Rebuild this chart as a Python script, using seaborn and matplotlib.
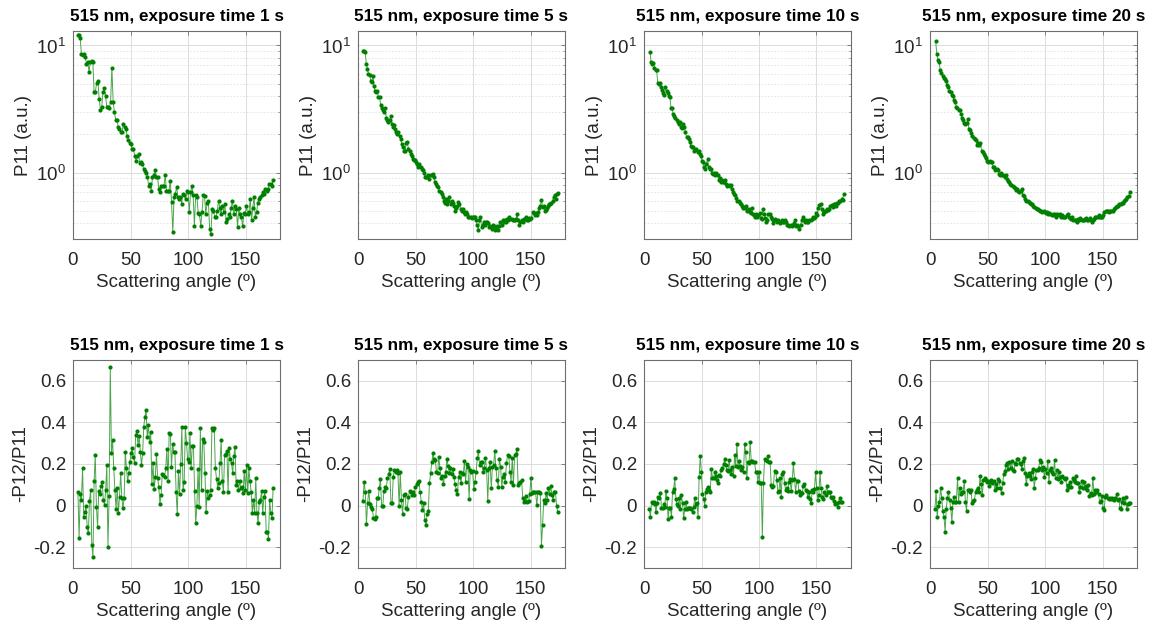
import numpy as np
import pandas as pd
import matplotlib
matplotlib.use("Agg")
import matplotlib.pyplot as plt
import matplotlib.ticker as mticker
import seaborn as sns

# --- DATOS ---
tiempos = ["1 s", "5 s", "10 s", "20 s"]

p11_1s = [12.2, 12.0, 11.5, 8.6, 8.4, 8.6, 8.1, 7.2, 7.4, 6.2, 7.4, 7.5, 7.4, 4.3, 4.3, 5.1, 5.3, 3.8, 3.1, 3.3,
          4.3, 4.6, 4.0, 3.3, 3.3, 3.2, 3.6, 6.7, 3.6, 3.0, 2.6, 2.6, 2.3, 2.2, 2.1, 2.1, 2.4, 2.3, 2.2, 1.95,
          1.8, 1.7, 1.68, 1.54, 1.52, 1.36, 1.24, 1.34, 1.39, 1.18, 1.2, 1.16, 1.07, 1.02, 1.0, 0.92, 0.79, 0.81,
          0.72, 0.92, 0.95, 1.04, 0.93, 0.92, 0.74, 0.70, 0.79, 0.79, 0.79, 0.95, 0.72, 0.72, 0.72, 0.86, 0.59,
          0.34, 0.64, 0.68, 0.77, 0.64, 0.62, 0.64, 0.57, 0.68, 0.66, 0.62, 0.72, 0.70, 0.49, 0.70, 0.79, 0.66,
          0.38, 0.66, 0.64, 0.48, 0.47, 0.38, 0.49, 0.66, 0.65, 0.47, 0.58, 0.60, 0.36, 0.33, 0.52, 0.50, 0.45,
          0.45, 0.50, 0.60, 0.53, 0.47, 0.55, 0.49, 0.57, 0.41, 0.43, 0.47, 0.45, 0.53, 0.60, 0.47, 0.55, 0.52,
          0.37, 0.53, 0.47, 0.45, 0.38, 0.48, 0.47, 0.55, 0.47, 0.49, 0.62, 0.42, 0.53, 0.64, 0.45, 0.49, 0.58,
          0.62, 0.64, 0.66, 0.70, 0.68, 0.74, 0.72, 0.74, 0.82, 0.81, 0.78, 0.88]

p11_5s = [9.1, 9.0, 8.9, 7.2, 6.5, 6.0, 5.9, 5.3, 5.2, 5.8, 4.8, 4.4, 4.3, 4.4, 3.9, 3.9, 3.4, 3.2, 3.1, 3.0,
          3.2, 2.7, 2.6, 2.5, 2.6, 2.8, 2.4, 2.3, 2.35, 2.2, 2.08, 2.0, 2.1, 1.95, 1.84, 1.68, 1.6, 1.49, 1.49,
          1.7, 1.73, 1.54, 1.49, 1.4, 1.36, 1.28, 1.26, 1.26, 1.2, 1.16, 1.1, 1.16, 1.11, 1.07, 1.05, 1.0, 0.92,
          0.93, 0.92, 0.95, 0.89, 0.95, 0.96, 0.98, 0.92, 0.84, 0.81, 0.79, 0.77, 0.72, 0.70, 0.68, 0.64, 0.60,
          0.58, 0.62, 0.57, 0.60, 0.64, 0.57, 0.60, 0.58, 0.55, 0.50, 0.53, 0.55, 0.59, 0.57, 0.52, 0.50, 0.52,
          0.49, 0.47, 0.49, 0.47, 0.45, 0.45, 0.45, 0.44, 0.45, 0.45, 0.45, 0.42, 0.39, 0.35, 0.42, 0.45, 0.37,
          0.39, 0.41, 0.39, 0.41, 0.41, 0.40, 0.37, 0.38, 0.36, 0.39, 0.38, 0.35, 0.37, 0.38, 0.35, 0.38, 0.41,
          0.39, 0.42, 0.41, 0.42, 0.41, 0.43, 0.42, 0.45, 0.43, 0.43, 0.42, 0.42, 0.42, 0.43, 0.47, 0.42, 0.39,
          0.41, 0.42, 0.41, 0.43, 0.43, 0.45, 0.42, 0.42, 0.44, 0.43, 0.44, 0.49, 0.48, 0.46, 0.48, 0.46, 0.49,
          0.53, 0.55, 0.61, 0.54, 0.55, 0.50, 0.51, 0.53, 0.55, 0.57, 0.57, 0.58, 0.60, 0.64, 0.66, 0.62, 0.68, 0.69]

p11_10s = [8.9, 7.4, 7.2, 7.3, 6.7, 6.4, 6.4, 5.1, 5.0, 5.1, 4.7, 4.5, 4.2, 4.1, 4.7, 4.4, 4.2, 4.0, 3.9, 3.2,
           3.2, 2.9, 2.8, 2.7, 2.6, 2.5, 2.4, 2.5, 2.3, 2.25, 2.4, 2.3, 2.1, 1.9, 1.9, 1.84, 1.73, 1.63, 1.58,
           1.58, 1.47, 1.5, 1.54, 1.45, 1.49, 1.4, 1.36, 1.24, 1.2, 1.1, 1.07, 1.17, 1.28, 1.1, 1.07, 1.07, 1.0,
           0.98, 0.99, 0.95, 1.0, 0.95, 0.88, 0.91, 0.84, 0.88, 0.85, 0.84, 0.88, 0.81, 0.79, 0.80, 0.79, 0.80,
           0.74, 0.70, 0.68, 0.67, 0.63, 0.60, 0.60, 0.58, 0.57, 0.55, 0.53, 0.54, 0.53, 0.55, 0.50, 0.52, 0.49,
           0.48, 0.53, 0.47, 0.46, 0.45, 0.47, 0.45, 0.46, 0.48, 0.44, 0.43, 0.52, 0.47, 0.44, 0.41, 0.42, 0.47,
           0.47, 0.45, 0.43, 0.40, 0.42, 0.43, 0.42, 0.41, 0.42, 0.40, 0.41, 0.42, 0.41, 0.41, 0.42, 0.41, 0.39,
           0.39, 0.38, 0.39, 0.38, 0.39, 0.40, 0.42, 0.38, 0.39, 0.38, 0.36, 0.39, 0.42, 0.45, 0.42, 0.41, 0.42,
           0.41, 0.41, 0.42, 0.42, 0.43, 0.45, 0.44, 0.45, 0.48, 0.46, 0.53, 0.56, 0.57, 0.52, 0.47, 0.49, 0.50,
           0.50, 0.52, 0.51, 0.52, 0.55, 0.56, 0.54, 0.57, 0.57, 0.55, 0.58, 0.58, 0.60, 0.60, 0.62, 0.61, 0.68]

p11_20s = [10.9, 8.6, 7.7, 7.4, 6.4, 6.1, 5.8, 5.5, 5.4, 5.3, 4.9, 4.7, 4.4, 4.3, 4.1, 4.0, 3.7, 3.6, 3.3, 3.2,
           3.1, 3.1, 2.9, 2.7, 2.6, 2.45, 2.4, 2.45, 2.65, 2.2, 2.15, 2.04, 1.95, 1.87, 1.84, 1.79, 1.66, 1.7,
           1.66, 1.72, 1.49, 1.45, 1.39, 1.34, 1.3, 1.24, 1.2, 1.23, 1.2, 1.2, 1.11, 1.1, 1.05, 1.07, 1.05, 0.98,
           0.96, 0.99, 0.95, 0.96, 0.92, 0.95, 0.89, 0.86, 0.85, 0.82, 0.80, 0.79, 0.77, 0.76, 0.73, 0.74, 0.71,
           0.70, 0.72, 0.74, 0.66, 0.65, 0.62, 0.60, 0.60, 0.59, 0.58, 0.57, 0.57, 0.55, 0.54, 0.53, 0.52, 0.52,
           0.51, 0.50, 0.50, 0.49, 0.50, 0.49, 0.48, 0.49, 0.47, 0.48, 0.47, 0.46, 0.47, 0.46, 0.47, 0.45, 0.47,
           0.46, 0.47, 0.45, 0.46, 0.45, 0.45, 0.45, 0.46, 0.47, 0.45, 0.44, 0.43, 0.45, 0.42, 0.42, 0.42, 0.41,
           0.43, 0.42, 0.44, 0.42, 0.42, 0.42, 0.43, 0.44, 0.42, 0.42, 0.44, 0.42, 0.41, 0.42, 0.43, 0.45, 0.45,
           0.45, 0.46, 0.45, 0.45, 0.45, 0.46, 0.49, 0.50, 0.50, 0.50, 0.49, 0.50, 0.50, 0.50, 0.52, 0.53, 0.54,
           0.55, 0.55, 0.57, 0.57, 0.58, 0.58, 0.60, 0.61, 0.62, 0.64, 0.65, 0.70]

p12_1s = [0.064, -0.157, 0.054, 0.027, 0.18, -0.056, -0.029, 0.0, -0.104, -0.133, 0.022, 0.075, -0.189, -0.245,
          0.118, 0.243, -0.005, -0.104, 0.07, 0.054, 0.094, 0.115, 0.027, 0.003, 0.075, 0.195, -0.197, 0.048,
          0.667, 0.251, 0.315, 0.179, 0.075, -0.016, 0.083, -0.034, 0.043, 0.155, 0.038, -0.013, 0.035, 0.259,
          0.179, 0.118, 0.155, 0.211, 0.254, 0.275, 0.235, 0.203, 0.339, 0.358, 0.291, 0.336, 0.259, 0.195,
          0.251, 0.379, 0.427, 0.459, 0.331, 0.387, 0.304, 0.352, 0.104, 0.203, 0.08, 0.139, 0.248, 0.131,
          0.091, 0.008, 0.051, 0.152, 0.147, 0.139, 0.179, 0.272, 0.12, 0.347, 0.342, 0.187, 0.294, 0.259,
          0.256, 0.064, -0.042, 0.166, 0.054, 0.198, 0.379, 0.075, 0.115, 0.379, 0.299, 0.224, 0.211, 0.347,
          0.179, 0.286, 0.286, 0.07, -0.085, 0.0, 0.176, -0.005, 0.374, 0.075, 0.32, 0.307, 0.155, -0.029,
          0.07, 0.035, 0.051, 0.075, 0.374, 0.363, 0.374, 0.182, 0.128, 0.086, 0.107, 0.203, 0.315, 0.118,
          0.067, 0.243, 0.246, 0.262, 0.067, 0.278, 0.224, 0.203, 0.155, 0.238, 0.283, 0.099, 0.118, 0.075,
          0.118, 0.083, 0.091, 0.059, 0.166, 0.075, 0.195, 0.059, 0.179, 0.118, 0.067, -0.037, 0.027, -0.037,
          0.131, -0.037, -0.085, 0.019, 0.027, 0.07, -0.037, 0.043, 0.07, -0.125, -0.125, -0.16, 0.027,
          -0.037, -0.058, 0.083]

p12_5s = [0.024, 0.112, 0.067, -0.088, 0.014, 0.07, 0.008, -0.005, -0.016, -0.058, -0.064, -0.054, 0.035,
          0.038, 0.083, 0.128, 0.0, 0.0, 0.07, 0.091, 0.086, 0.131, 0.15, 0.176, 0.011, 0.011, 0.139, 0.171,
          0.16, 0.171, 0.155, 0.0, 0.16, 0.027, -0.042, 0.051, 0.054, -0.01, -0.016, 0.043, 0.07, 0.064, 0.051,
          0.067, 0.051, 0.091, 0.102, 0.112, 0.118, 0.064, 0.019, -0.021, 0.011, -0.069, -0.093, -0.042,
          -0.026, 0.107, 0.155, 0.208, 0.251, 0.224, 0.219, 0.163, 0.155, 0.235, 0.179, 0.134, 0.144, 0.102,
          0.144, 0.16, 0.224, 0.192, 0.155, 0.179, 0.15, 0.176, 0.139, 0.102, 0.075, 0.054, 0.139, 0.16, 0.107,
          0.155, 0.15, 0.214, 0.115, 0.198, 0.187, 0.032, 0.171, 0.16, 0.166, 0.08, 0.115, 0.16, 0.227, 0.262,
          0.195, 0.211, 0.208, 0.163, 0.179, 0.227, 0.171, 0.022, 0.179, 0.208, 0.083, 0.187, 0.195, 0.262,
          0.179, 0.123, 0.091, 0.224, 0.187, 0.091, 0.139, 0.15, 0.112, 0.203, 0.243, 0.24, 0.163, 0.115, 0.23,
          0.099, 0.243, 0.246, 0.272, 0.099, 0.107, 0.115, 0.123, 0.035, 0.019, 0.022, 0.048, 0.019, 0.022,
          0.054, 0.134, 0.059, 0.064, 0.067, 0.064, 0.003, 0.064, 0.067, 0.059, -0.192, -0.093, 0.027, 0.011,
          0.059, 0.027, 0.083, 0.054, 0.096, 0.051, 0.027, 0.067, 0.064, 0.0, -0.032]

p12_10s = [-0.016, -0.053, 0.016, 0.011, 0.016, 0.006, -0.032, 0.011, 0.043, 0.035, 0.059, -0.01, -0.013,
           0.006, -0.005, 0.07, 0.035, -0.064, -0.01, -0.013, -0.053, 0.067, 0.08, 0.131, 0.032, 0.006, 0.0,
           0.038, -0.016, 0.051, 0.011, -0.061, -0.016, 0.019, -0.016, -0.01, -0.013, -0.01, -0.016, -0.029,
           -0.005, 0.038, 0.006, 0.011, -0.053, 0.139, 0.24, 0.16, 0.054, 0.032, 0.0, 0.067, 0.08, 0.091, 0.075,
           0.067, 0.176, 0.134, 0.131, 0.163, 0.144, 0.123, 0.107, 0.147, 0.144, 0.171, 0.179, 0.198, 0.224,
           0.195, 0.171, 0.166, 0.219, 0.171, 0.15, 0.187, 0.144, 0.243, 0.192, 0.294, 0.187, 0.214, 0.192,
           0.171, 0.187, 0.163, 0.294, 0.259, 0.134, 0.208, 0.203, 0.304, 0.214, 0.214, 0.211, 0.208, 0.163,
           0.16, 0.115, 0.16, 0.107, 0.107, -0.149, 0.107, 0.224, 0.219, 0.214, 0.24, 0.211, 0.208, 0.099,
           0.091, 0.096, 0.166, 0.163, 0.123, 0.064, 0.07, 0.134, 0.043, 0.15, 0.163, 0.107, 0.075, 0.083,
           0.07, 0.115, 0.128, 0.07, 0.123, 0.203, 0.128, 0.067, 0.118, 0.118, 0.07, 0.051, 0.059, 0.059,
           0.096, 0.102, 0.075, 0.07, 0.043, 0.067, 0.032, 0.011, 0.075, 0.064, 0.08, 0.16, 0.083, 0.027,
           0.051, 0.16, 0.083, 0.043, 0.032, 0.064, 0.051, 0.096, 0.067, 0.064, 0.064, 0.043, 0.035, 0.043,
           0.022, 0.006, 0.011, -0.005, 0.019, 0.038, 0.019, 0.016]

p12_20s = [-0.016, 0.07, -0.053, 0.0, 0.019, 0.083, 0.038, -0.026, -0.053, -0.125, -0.016, 0.035, 0.067,
           0.027, -0.013, -0.077, 0.019, 0.043, 0.019, 0.019, 0.131, 0.019, 0.086, 0.054, 0.064, 0.067, 0.118,
           0.019, -0.026, 0.075, 0.075, 0.067, 0.075, 0.011, 0.022, 0.027, 0.067, 0.075, 0.083, 0.064, 0.144,
           0.102, 0.051, 0.123, 0.134, 0.123, 0.115, 0.118, 0.096, 0.115, 0.123, 0.107, 0.118, 0.075, 0.102,
           0.083, 0.128, 0.118, 0.083, 0.059, 0.107, 0.15, 0.166, 0.195, 0.203, 0.176, 0.208, 0.179, 0.214,
           0.171, 0.166, 0.203, 0.198, 0.224, 0.224, 0.203, 0.198, 0.176, 0.214, 0.23, 0.155, 0.102, 0.144,
           0.155, 0.144, 0.128, 0.163, 0.176, 0.083, 0.134, 0.171, 0.171, 0.182, 0.219, 0.211, 0.171, 0.187,
           0.139, 0.176, 0.155, 0.214, 0.115, 0.171, 0.179, 0.163, 0.15, 0.219, 0.131, 0.171, 0.128, 0.163,
           0.139, 0.112, 0.144, 0.134, 0.128, 0.134, 0.075, 0.099, 0.091, 0.112, 0.091, 0.131, 0.123, 0.115,
           0.144, 0.107, 0.107, 0.064, 0.091, 0.118, 0.086, 0.115, 0.083, 0.096, 0.075, 0.099, 0.048, 0.059,
           0.051, 0.134, 0.054, 0.075, 0.067, 0.075, 0.054, 0.019, 0.022, 0.048, -0.01, -0.021, 0.043, 0.051,
           0.038, 0.032, 0.038, 0.032, 0.035, 0.032, 0.027, 0.035, 0.054, 0.027, 0.032, -0.01, -0.016, 0.019,
           0.038, 0.011, 0.043, -0.016, 0.006, 0.011, 0.011]

p11_series = [p11_1s, p11_5s, p11_10s, p11_20s]
p12_series = [p12_1s, p12_5s, p12_10s, p12_20s]
# ángulo inicial / final de cada serie (º)
rango_p11 = [(4, 174), (4.3, 174), (5.2, 173.7), (4.9, 173.7)]
rango_p12 = [(4.3, 174), (4.3, 173.7), (4.6, 172.3), (4.3, 174)]

# --- ESTILO tipo MATLAB ---
sns.set_theme(style="white")
plt.rcParams["font.family"] = ["Liberation Sans", "DejaVu Sans"]
plt.rcParams["mathtext.fontset"] = "custom"
plt.rcParams["mathtext.rm"] = "Liberation Sans"
plt.rcParams["mathtext.default"] = "regular"
plt.rcParams["axes.unicode_minus"] = False

VERDE = "#008000"
TEXTO = "#262626"
lefts = [73, 358, 644, 930]
FS = 13.5


def estilo_ejes(ax):
    for s in ax.spines.values():
        s.set_color("#6e6e6e")
        s.set_linewidth(0.8)
    ax.tick_params(direction="in", length=3, width=0.6, colors="#6e6e6e",
                   labelcolor=TEXTO, labelsize=FS, pad=5, top=True, right=True)
    ax.tick_params(axis="x", pad=9)
    ax.tick_params(which="minor", direction="in", length=1.8, width=0.5,
                   colors="#6e6e6e", top=True, right=True)
    ax.set_xlim(0, 180)
    ax.set_xticks([0, 50, 100, 150])
    ax.grid(True, which="major", color="#dcdcdc", linewidth=0.7)
    ax.set_axisbelow(True)
    ax.set_xlabel("Scattering angle (º)", fontsize=FS, color=TEXTO, labelpad=4)


def dibujar(ax, x, y):
    df = pd.DataFrame({"ang": x, "val": y})
    sns.lineplot(data=df, x="ang", y="val", ax=ax, color=VERDE, linewidth=0.7,
                 alpha=0.7, sort=False, estimator=None)
    sns.scatterplot(data=df, x="ang", y="val", ax=ax, color=VERDE, s=9,
                    linewidth=0, zorder=3)


fig = plt.figure(figsize=(11.68, 6.28), dpi=100)

for i, t in enumerate(tiempos):
    w = 207 / 1168
    h = 208 / 628
    # fila superior: P11
    ax = fig.add_axes([lefts[i] / 1168, 1 - 239 / 628, w, h])
    y = p11_series[i]
    x = np.linspace(rango_p11[i][0], rango_p11[i][1], len(y))
    dibujar(ax, x, y)
    ax.set_yscale("log")
    ax.set_ylim(0.3, 13)
    ax.yaxis.set_major_locator(mticker.FixedLocator([1, 10]))
    ax.yaxis.set_major_formatter(mticker.LogFormatterMathtext())
    ax.yaxis.set_minor_locator(mticker.LogLocator(base=10, subs=np.arange(2, 10)))
    ax.yaxis.set_minor_formatter(mticker.NullFormatter())
    estilo_ejes(ax)
    ax.grid(True, which="minor", axis="y", color="#e2e2e2", linewidth=0.6, linestyle=(0, (2, 2)))
    ax.set_ylabel("P11 (a.u.)", fontsize=FS, color=TEXTO, labelpad=3)
    ax.set_title(f"515 nm, exposure time {t}", fontsize=12.3, fontweight="bold", color="black", pad=7)

    # fila inferior: -P12/P11
    ax = fig.add_axes([lefts[i] / 1168, 1 - 568 / 628, w, h])
    y = p12_series[i]
    x = np.linspace(rango_p12[i][0], rango_p12[i][1], len(y))
    dibujar(ax, x, y)
    ax.set_ylim(-0.3, 0.7)
    ax.set_yticks([-0.2, 0, 0.2, 0.4, 0.6])
    ax.yaxis.set_major_formatter(mticker.FuncFormatter(lambda v, p: f"{v:g}"))
    estilo_ejes(ax)
    ax.set_ylabel("-P12/P11", fontsize=FS, color=TEXTO, labelpad=3)
    ax.set_title(f"515 nm, exposure time {t}", fontsize=12.3, fontweight="bold", color="black", pad=7)

fig.savefig("out.png", dpi=100, facecolor="white")
